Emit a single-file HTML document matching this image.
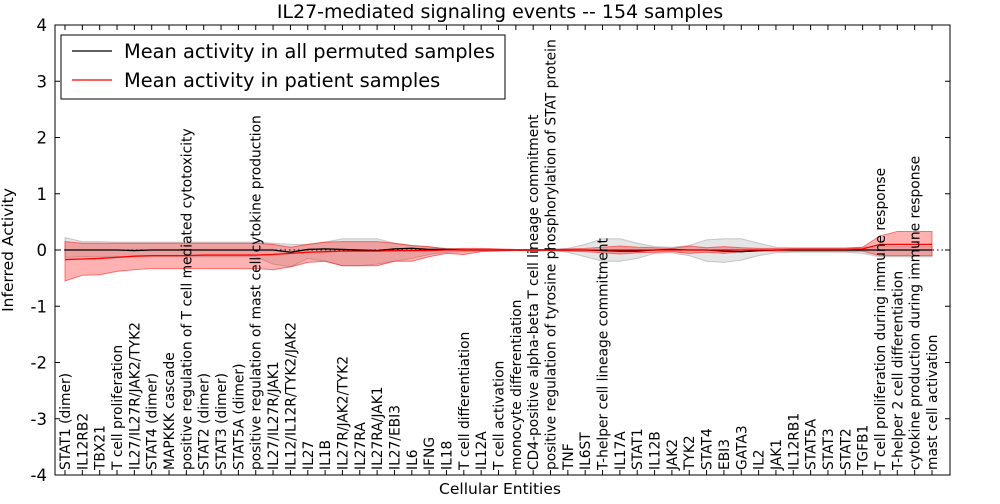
<!DOCTYPE html>
<html><head><meta charset="utf-8"><style>
body{margin:0;background:#fff;font-family:"DejaVu Sans",sans-serif}
</style></head><body>
<svg id="c" width="1000" height="500" xmlns="http://www.w3.org/2000/svg" font-family="DejaVu Sans, sans-serif"></svg>
<script>
const labels=["STAT1 (dimer)","IL12RB2","TBX21","T cell proliferation","IL27/IL27R/JAK2/TYK2","STAT4 (dimer)","MAPKKK cascade","positive regulation of T cell mediated cytotoxicity","STAT2 (dimer)","STAT3 (dimer)","STAT5A (dimer)","positive regulation of mast cell cytokine production","IL27/IL27R/JAK1","IL12/IL12R/TYK2/JAK2","IL27","IL1B","IL27R/JAK2/TYK2","IL27RA","IL27RA/JAK1","IL27/EBI3","IL6","IFNG","IL18","T cell differentiation","IL12A","T cell activation","monocyte differentiation","CD4-positive alpha-beta T cell lineage commitment","positive regulation of tyrosine phosphorylation of STAT protein","TNF","IL6ST","T-helper cell lineage commitment","IL17A","STAT1","IL12B","JAK2","TYK2","STAT4","EBI3","GATA3","IL2","JAK1","IL12RB1","STAT5A","STAT3","STAT2","TGFB1","T cell proliferation during immune response","T-helper 2 cell differentiation","cytokine production during immune response","mast cell activation"];
const redMean=[-0.17,-0.16,-0.15,-0.13,-0.11,-0.1,-0.1,-0.1,-0.09,-0.09,-0.09,-0.09,-0.08,-0.06,-0.04,-0.03,-0.02,-0.02,-0.02,-0.01,-0.01,-0.01,0,0,0,0,0,0,0,0,0,0,0,0,0,0,0,0,0,0,0,0,0.01,0.01,0.01,0.01,0.02,0.1,0.1,0.1,0.1];
const redUp=[0.15,0.12,0.12,0.12,0.12,0.12,0.12,0.12,0.12,0.12,0.12,0.12,0.1,0.05,0.1,0.14,0.15,0.15,0.15,0.12,0.08,0.06,0.02,0.03,0.03,0.02,0.01,0.01,0.01,0.02,0.03,0.05,0.07,0.05,0.04,0.03,0.07,0.04,0.06,0.04,0.03,0.03,0.03,0.03,0.03,0.03,0.05,0.25,0.33,0.33,0.33];
const redLow=[-0.55,-0.45,-0.44,-0.38,-0.35,-0.33,-0.33,-0.33,-0.33,-0.33,-0.33,-0.33,-0.35,-0.3,-0.22,-0.2,-0.28,-0.28,-0.28,-0.2,-0.2,-0.12,-0.06,-0.08,-0.03,-0.02,-0.01,-0.01,-0.01,-0.02,-0.03,-0.05,-0.07,-0.05,-0.04,-0.03,-0.06,-0.04,-0.06,-0.03,-0.02,-0.02,-0.02,-0.02,-0.02,-0.02,-0.02,-0.1,-0.1,-0.1,-0.1];
const grayMean=[0,0,0,0,-0.01,0,0,0,0,0,0,0,0,-0.04,0.01,0.02,0.01,0,-0.01,0.02,0.03,0.01,0.01,0,0,0,0,0,0,0,0,-0.01,-0.02,-0.02,0,0.01,0,0,-0.02,-0.03,-0.01,0,0,0,0,0,0,0,0,0,0];
const grayUp=[0.22,0.15,0.15,0.14,0.14,0.14,0.14,0.14,0.14,0.14,0.14,0.14,0.12,0.1,0.1,0.14,0.2,0.2,0.2,0.12,0.08,0.05,0.03,0.02,0.02,0.01,0.01,0.01,0.01,0.03,0.1,0.2,0.2,0.12,0.06,0.05,0.08,0.18,0.2,0.2,0.12,0.05,0.04,0.04,0.04,0.04,0.05,0.06,0.06,0.06,0.06];
const grayLow=[-0.13,-0.12,-0.12,-0.12,-0.12,-0.12,-0.12,-0.12,-0.12,-0.12,-0.12,-0.12,-0.25,-0.3,-0.15,-0.2,-0.28,-0.28,-0.25,-0.2,-0.15,-0.08,-0.04,-0.03,-0.02,-0.01,-0.01,-0.01,-0.01,-0.04,-0.12,-0.2,-0.2,-0.15,-0.06,-0.05,-0.1,-0.2,-0.22,-0.18,-0.1,-0.05,-0.04,-0.04,-0.04,-0.04,-0.06,-0.12,-0.12,-0.12,-0.12];
const yTicks=[-4,-3,-2,-1,0,1,2,3,4];
const NS="http://www.w3.org/2000/svg",svg=document.getElementById('c');
const L=55,R=950,T=25,B=475;
const xs=i=>65+i*(932-65)/(labels.length-1);
const ys=v=>T+(4-v)*(B-T)/8;
function el(t,a,p){const e=document.createElementNS(NS,t);for(const k in a)e.setAttribute(k,a[k]);(p||svg).appendChild(e);return e;}
function band(up,low,fill,op,name){
 let d=up.map((v,i)=>(i?'L':'M')+xs(i)+','+ys(v)).join('');
 for(let i=low.length-1;i>=0;i--)d+='L'+xs(i)+','+ys(low[i]);
 const p=el('path',{d:d+'Z',fill:fill,'fill-opacity':op,stroke:fill,'stroke-opacity':0.5});
 
 
}
function line(arr,col,name,dash){
 const p=el('path',{d:arr.map((v,i)=>(i?'L':'M')+xs(i)+','+ys(v)).join(''),fill:'none',stroke:col,'stroke-width':1.3});
 if(dash)p.setAttribute('stroke-dasharray',dash);
 
 
}
band(grayUp,grayLow,'#999',0.25,'permuted-band');
band(redUp,redLow,'#f00',0.3,'patient-band');
const z=el('line',{x1:L,x2:R,y1:ys(0),y2:ys(0),stroke:'#000','stroke-dasharray':'1.5,3'});


line(grayMean,'#000','permuted-mean-line');
line(redMean,'#f00','patient-mean-line');
const fr=el('rect',{x:L,y:T,width:R-L,height:B-T,fill:'none',stroke:'#000'});


yTicks.forEach(v=>{
 el('line',{x1:L,x2:L+5,y1:ys(v),y2:ys(v),stroke:'#000'});
 el('line',{x1:R,x2:R-5,y1:ys(v),y2:ys(v),stroke:'#000'});
 const t=el('text',{x:L-8,y:ys(v)+6,'text-anchor':'end','font-size':16.5});
 t.textContent=v;
 
 
});
labels.forEach((s,i)=>{
 el('line',{x1:xs(i),x2:xs(i),y1:B,y2:B-5,stroke:'#000'});
 el('line',{x1:xs(i),x2:xs(i),y1:T,y2:T+5,stroke:'#000'});
 const t=el('text',{transform:`translate(${xs(i)+5},470) rotate(-90)`,'font-size':13.8});
 t.textContent=s;
 
 
});
const ti=el('text',{x:500,y:18,'text-anchor':'middle','font-size':19});ti.textContent='IL27-mediated signaling events -- 154 samples';


const xl=el('text',{x:500,y:494,'text-anchor':'middle','font-size':15.5});xl.textContent='Cellular Entities';


const yl=el('text',{transform:'translate(13,250) rotate(-90)','text-anchor':'middle','font-size':15.5});yl.textContent='Inferred Activity';


const lg=el('g',{});


el('rect',{x:61,y:35,width:444,height:64,fill:'#fff',stroke:'#000'},lg);
el('line',{x1:72,x2:112,y1:51,y2:51,stroke:'#000','stroke-width':1.3},lg);
el('line',{x1:72,x2:112,y1:80,y2:80,stroke:'#f00','stroke-width':1.3},lg);
const l1=el('text',{x:124,y:58,'font-size':19.4},lg);l1.textContent='Mean activity in all permuted samples';


const l2=el('text',{x:124,y:87,'font-size':19.4},lg);l2.textContent='Mean activity in patient samples';


</script>
</body></html>
